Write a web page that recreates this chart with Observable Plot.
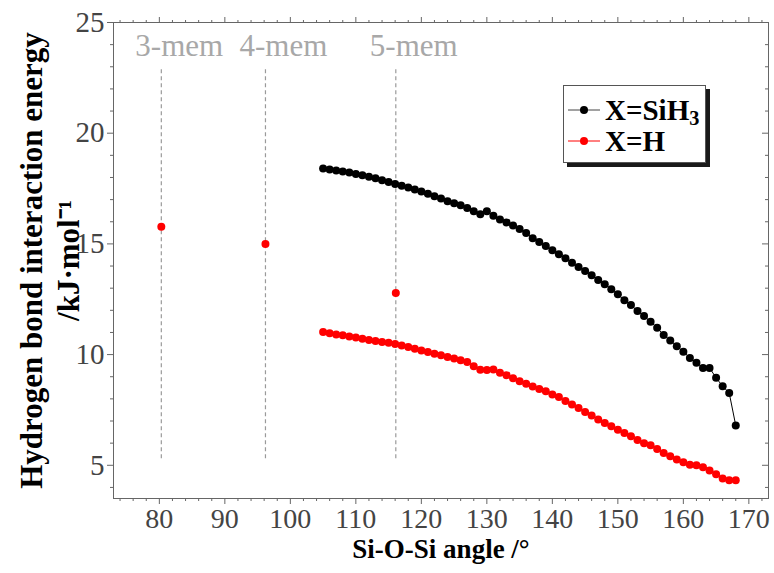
<!DOCTYPE html>
<html><head><meta charset="utf-8">
<script src="https://cdn.jsdelivr.net/npm/d3@7"></script>
<script src="https://cdn.jsdelivr.net/npm/@observablehq/plot@0.6"></script>
<style>
body{margin:0;background:#fff;}
#wrap{position:relative;width:774px;height:573px;}
#legend{position:absolute;left:563px;top:85px;width:143px;height:78px;border:1px solid #555;box-shadow:4px 4px 0 #1a1a1a;background:#fff;box-sizing:border-box;font-family:'Liberation Serif','Times New Roman',serif;font-weight:bold;font-size:29px;color:#000;}
.row{position:absolute;left:0;height:30px;display:flex;align-items:center;}
.row svg{margin-left:4px;margin-right:5px;}
sub{font-size:0.7em;vertical-align:-0.25em;line-height:0;}
</style>
</head><body>
<div id="wrap"></div>
<script>
const angles = [105,106,107,108,109,110,111,112,113,114,115,116,117,118,119,120,121,122,123,124,125,126,127,128,129,130,131,132,133,134,135,136,137,138,139,140,141,142,143,144,145,146,147,148,149,150,151,152,153,154,155,156,157,158,159,160,161,162,163,164,165,166,167,168];
const eSiH3 = [18.40,18.36,18.32,18.27,18.22,18.16,18.10,18.03,17.96,17.88,17.80,17.71,17.63,17.55,17.46,17.37,17.27,17.15,17.05,16.93,16.84,16.74,16.62,16.48,16.34,16.47,16.27,16.10,15.97,15.83,15.67,15.49,15.26,15.08,14.91,14.71,14.53,14.35,14.15,13.96,13.78,13.58,13.37,13.18,12.95,12.72,12.45,12.24,11.97,11.74,11.48,11.21,10.88,10.64,10.38,10.13,9.85,9.63,9.40,9.40,8.95,8.57,8.27,6.80];
const eH = [11.02,10.96,10.91,10.87,10.82,10.77,10.72,10.66,10.61,10.57,10.53,10.48,10.41,10.34,10.26,10.19,10.12,10.04,9.97,9.89,9.82,9.74,9.66,9.47,9.31,9.30,9.33,9.18,9.07,8.93,8.80,8.68,8.56,8.45,8.34,8.20,8.08,7.90,7.75,7.59,7.41,7.25,7.07,6.91,6.76,6.61,6.46,6.31,6.14,6.00,5.90,5.74,5.56,5.41,5.26,5.14,5.03,5.00,4.91,4.76,4.60,4.40,4.32,4.32];
const memLabels = ["3-mem","4-mem","5-mem"];
const memAngles = [80.3,96.2,116.1];
const memE = [15.78,15.00,12.78];
const memLineRange = [5.3,23.0];
const seriesNames = ["X=SiH3","X=H"];
const seriesColors = ["#000000","#ff0000"];
const xMajor = [80,90,100,110,120,130,140,150,160,170];
const xMinor = [74,76,78,82,84,86,88,92,94,96,98,102,104,106,108,112,114,116,118,122,124,126,128,132,134,136,138,142,144,146,148,152,154,156,158,162,164,166,168,172];
const yMajor = [5,10,15,20,25];
const yMinor = [4,6,7,8,9,11,12,13,14,16,17,18,19,21,22,23,24];
const xTitle = "Si-O-Si angle /°";
const yTitle1 = "Hydrogen bond interaction energy";
const yTitle2 = "/kJ·mol⁻¹";

const W = 774, H = 573, mL = 113, mR = 6, mT = 22, mB = 75;
const frameW = W - mL - mR;
const font = "'Liberation Serif','Times New Roman',serif";
const tickColor = "#666";
const labelColor = "#444";

const plot = Plot.plot({
  width: W, height: H,
  marginLeft: mL, marginRight: mR, marginTop: mT, marginBottom: mB,
  x: {domain: [73, 173]},
  y: {domain: [3.5, 25]},
  style: {fontFamily: font, background: "#fff", color: "#000"},
  marks: [
    Plot.frame({stroke: tickColor, strokeWidth: 1}),
    Plot.axisX(xMinor, {anchor: "bottom", tickSize: 3, tickFormat: () => "", stroke: tickColor, label: null}),
    Plot.axisX(xMajor, {anchor: "bottom", tickSize: 6, tickPadding: 4, fontSize: 28, fill: labelColor, stroke: tickColor, label: null, tickFormat: d => d}),
    Plot.axisX(xMinor, {anchor: "top", tickSize: 3, tickFormat: () => "", stroke: tickColor, label: null}),
    Plot.axisX(xMajor, {anchor: "top", tickSize: 6, tickFormat: () => "", stroke: tickColor, label: null}),
    Plot.axisY(yMinor, {anchor: "left", tickSize: 3, tickFormat: () => "", stroke: tickColor, label: null}),
    Plot.axisY(yMajor, {anchor: "left", tickSize: 6, tickPadding: 3, fontSize: 29, fill: labelColor, stroke: tickColor, label: null, tickFormat: d => d}),
    Plot.tickY(yMinor, {y: d => d, insetLeft: frameW - 3, stroke: tickColor}),
    Plot.tickY(yMajor, {y: d => d, insetLeft: frameW - 6, stroke: tickColor}),
    Plot.ruleX(memAngles, {x: d => d, y1: memLineRange[0], y2: memLineRange[1], stroke: "#9a9a9a", strokeWidth: 1.2, strokeDasharray: "4,3"}),
    Plot.text(memLabels, {x: (d, i) => memAngles[i], y: memLineRange[1], dy: -21, dx: -26, textAnchor: "start", fontSize: 31, fill: "#a8a8a8"}),
    Plot.line(angles, {x: d => d, y: (d, i) => eSiH3[i], stroke: seriesColors[0], strokeWidth: 1}),
    Plot.dot(angles, {x: d => d, y: (d, i) => eSiH3[i], r: 4, fill: seriesColors[0]}),
    Plot.line(angles, {x: d => d, y: (d, i) => eH[i], stroke: seriesColors[1], strokeWidth: 1}),
    Plot.dot(angles, {x: d => d, y: (d, i) => eH[i], r: 4, fill: seriesColors[1]}),
    Plot.dot(memAngles, {x: d => d, y: (d, i) => memE[i], r: 4, fill: seriesColors[1]}),
    Plot.text([xTitle], {frameAnchor: "bottom", dy: 59, fontSize: 27, fontWeight: "bold", fill: "#000"}),
    Plot.text([yTitle1], {frameAnchor: "left", textAnchor: "middle", rotate: -90, dx: -81, fontSize: 31, fontWeight: "bold", fill: "#000"}),
    Plot.text([yTitle2], {frameAnchor: "left", textAnchor: "middle", rotate: -90, dx: -44, fontSize: 31, fontWeight: "bold", fill: "#000"})
  ]
});
const wrap = document.getElementById("wrap");
wrap.appendChild(plot);

const legend = document.createElement("div");
legend.id = "legend";
const rowTops = [9, 40];
seriesNames.forEach((name, i) => {
  const row = document.createElement("div");
  row.className = "row";
  row.style.top = rowTops[i] + "px";
  const lineColor = i === 0 ? "#444" : seriesColors[i];
  row.innerHTML = `<svg width="32" height="12"><line x1="0" y1="6" x2="32" y2="6" stroke="${lineColor}" stroke-width="1"/><circle cx="16" cy="6" r="4" fill="${seriesColors[i]}"/></svg>` +
    `<span>${name.replace(/(\d+)$/, "<sub>$1</sub>")}</span>`;
  legend.appendChild(row);
});
wrap.appendChild(legend);
</script>
</body></html>
